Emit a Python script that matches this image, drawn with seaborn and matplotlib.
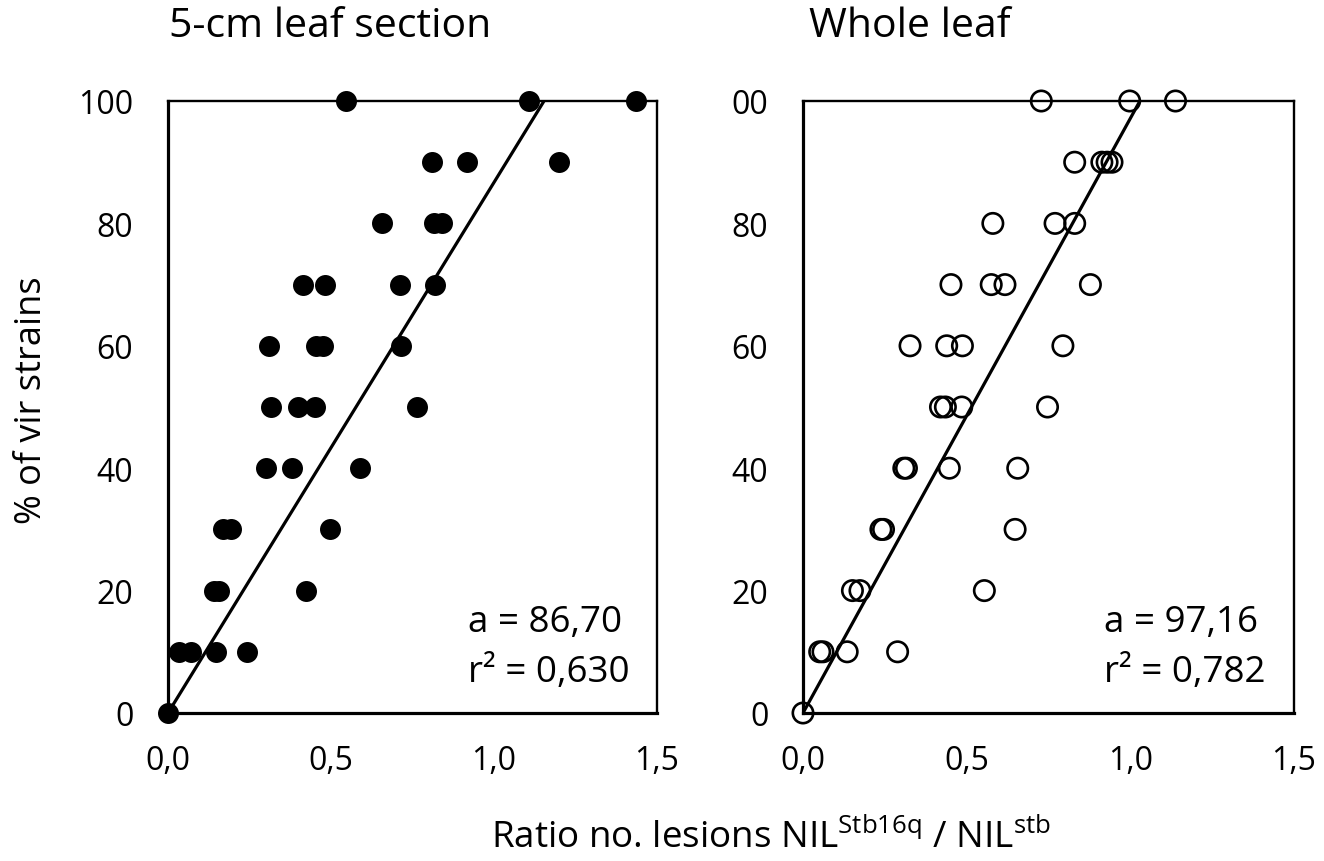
import matplotlib
matplotlib.use("Agg")
import matplotlib.pyplot as plt
import seaborn as sns
import pandas as pd
import numpy as np

# ---------------- data ----------------
left_x = [0.547, 1.108, 1.437,
          0.809, 0.916, 1.198,
          0.656, 0.817, 0.841,
          0.414, 0.482, 0.712, 0.819,
          0.310, 0.455, 0.475, 0.715,
          0.317, 0.398, 0.450, 0.764,
          0.302, 0.380, 0.588,
          0.169, 0.194, 0.496,
          0.141, 0.156, 0.422,
          0.033, 0.072, 0.148, 0.242,
          0.000]
left_y = [100]*3 + [90]*3 + [80]*3 + [70]*4 + [60]*4 + [50]*4 + [40]*3 + [30]*3 + [20]*3 + [10]*4 + [0]

right_x = [0.728, 0.998, 1.138,
           0.830, 0.913, 0.929, 0.944,
           0.580, 0.770, 0.830,
           0.452, 0.575, 0.617, 0.878,
           0.327, 0.439, 0.487, 0.794,
           0.420, 0.435, 0.485, 0.747,
           0.308, 0.316, 0.447, 0.656,
           0.238, 0.246, 0.648,
           0.151, 0.174, 0.554,
           0.051, 0.061, 0.135, 0.289,
           0.000]
right_y = [100]*3 + [90]*4 + [80]*3 + [70]*4 + [60]*4 + [50]*4 + [40]*4 + [30]*3 + [20]*3 + [10]*4 + [0]

slope_left = 86.70
slope_right = 97.16
r2_left = "0,630"
r2_right = "0,782"

titles = ["5-cm leaf section", "Whole leaf"]
x_ticks = [0.0, 0.5, 1.0, 1.5]
x_ticklabels = ["0,0", "0,5", "1,0", "1,5"]
y_ticks = [0, 20, 40, 60, 80, 100]
y_ticklabels_left = ["0", "20", "40", "60", "80", "100"]
y_ticklabels_right = ["0", "20", "40", "60", "80", "00"]

# ---------------- style ----------------
sns.set_theme(style="white")
plt.rcParams['font.family'] = ['Open Sans', 'DejaVu Sans']
plt.rcParams['mathtext.fontset'] = 'custom'
plt.rcParams['mathtext.rm'] = 'Open Sans'
plt.rcParams['text.color'] = 'black'
plt.rcParams['axes.labelcolor'] = 'black'
plt.rcParams['xtick.color'] = 'black'
plt.rcParams['ytick.color'] = 'black'

fig = plt.figure(figsize=(13.24, 8.62), dpi=100)
ax1 = fig.add_axes([168/1324, 148/862, 489/1324, 612/862])
ax2 = fig.add_axes([803/1324, 148/862, 491/1324, 612/862])

df_l = pd.DataFrame({"x": left_x, "y": left_y})
df_r = pd.DataFrame({"x": right_x, "y": right_y})

sns.scatterplot(data=df_l, x="x", y="y", ax=ax1, s=228, color="black",
                edgecolor="black", linewidth=0, clip_on=False, zorder=4)
sns.scatterplot(data=df_r, x="x", y="y", ax=ax2, s=215, facecolor="none",
                edgecolor="black", linewidth=1.9, clip_on=False, zorder=4)

for ax, a in [(ax1, slope_left), (ax2, slope_right)]:
    lx = [0.0, 100.0 / a]
    ly = [0.0, 100.0]
    sns.lineplot(x=lx, y=ly, ax=ax, color="black", linewidth=2.3, zorder=3)

for ax, ylabels, a, r2 in [(ax1, y_ticklabels_left, slope_left, r2_left),
                           (ax2, y_ticklabels_right, slope_right, r2_right)]:
    ax.set_xlim(0, 1.5)
    ax.set_ylim(0, 100)
    ax.set_xticks(x_ticks)
    ax.set_xticklabels(x_ticklabels)
    ax.set_yticks(y_ticks)
    ax.set_yticklabels(ylabels)
    ax.tick_params(axis="both", direction="out", length=8, width=2.0,
                   labelsize=23, colors="black")
    ax.tick_params(axis="x", pad=14)
    ax.tick_params(axis="y", pad=17)
    ax.set_xlabel("")
    ax.set_ylabel("")
    for side in ["left", "bottom"]:
        ax.spines[side].set_linewidth(2.3)
        ax.spines[side].set_color("black")
    for side in ["top", "right"]:
        ax.spines[side].set_linewidth(1.7)
        ax.spines[side].set_color("black")
    ax.text(0.613, 0.148, "a = %s" % ("%.2f" % a).replace(".", ","),
            transform=ax.transAxes, ha="left", va="center", fontsize=26.5)
    ax.text(0.613, 0.067, "r² = " + r2,
            transform=ax.transAxes, ha="left", va="center", fontsize=26.5)
    ax.grid(False)

fig.text(169/1324, 1 - 27/862, titles[0], ha="left", va="center", fontsize=29.5)
fig.text(809/1324, 1 - 27/862, titles[1], ha="left", va="center", fontsize=29.5)

fig.text(32/1324, 1 - 400/862, "% of vir strains", rotation=90,
         ha="center", va="center", fontsize=26)
fig.text(771/1324, 14/862,
         r"Ratio no. lesions NIL$^{\mathregular{Stb16q}}$ / NIL$^{\mathregular{stb}}$",
         ha="center", va="baseline", fontsize=26.5)

fig.savefig("out.png", dpi=100, facecolor="white")
